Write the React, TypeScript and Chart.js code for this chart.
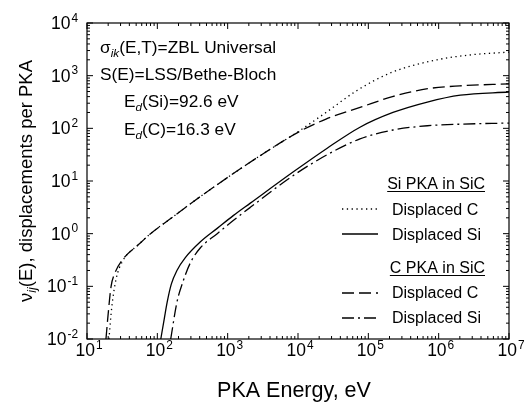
import React, { useEffect, useRef } from "react";
import { Chart, registerables } from "chart.js";

Chart.register(...registerables);

// ---- Data ----
// Si PKA in SiC, displaced C (dotted)
const siPkaDispC_E = [20.5, 22.5, 26, 32, 54, 80, 160, 320, 1000, 3200, 10000, 25000, 70000, 220000, 950000, 3000000, 10000000];
const siPkaDispC_nu = [0.01, 0.04, 0.14, 0.3, 0.62, 1.0, 2.0, 4.0, 11.7, 33, 86, 200, 530, 1170, 2000, 2500, 2800];
// Si PKA in SiC, displaced Si (solid)
const siPkaDispSi_E = [112, 126, 138, 158, 190, 250, 410, 710, 1200, 2100, 8500, 26000, 76000, 224000, 690000, 2040000, 10000000];
const siPkaDispSi_nu = [0.01, 0.025, 0.05, 0.11, 0.2, 0.35, 0.7, 1.26, 2.2, 3.8, 14.8, 42, 105, 200, 316, 427, 490];
// C PKA in SiC, displaced C (dashed)
const cPkaDispC_E = [18.6, 20, 22, 25, 32, 54, 80, 160, 320, 1000, 3200, 10000, 25000, 80000, 220000, 700000, 2000000, 10000000];
const cPkaDispC_nu = [0.01, 0.03, 0.1, 0.18, 0.32, 0.62, 1.0, 2.0, 4.0, 11.7, 33, 84, 150, 255, 400, 565, 640, 700];
// C PKA in SiC, displaced Si (dash-dot)
const cPkaDispSi_E = [155, 190, 235, 295, 410, 710, 1200, 2100, 8500, 26000, 76000, 224000, 690000, 2040000, 10000000];
const cPkaDispSi_nu = [0.01, 0.05, 0.13, 0.28, 0.54, 1.0, 1.78, 3.16, 12.6, 31.6, 63, 93, 112, 120, 126];

// Tick exponents
const xTickExps = [1, 2, 3, 4, 5, 6, 7];
const yTickExps = [-2, -1, 0, 1, 2, 3, 4];

// Text
const xTitle = "PKA Energy, eV";
const yTitleMain = "ν";
const yTitleSub = "ij";
const yTitleRest = "(E), displacements per PKA";
const legendHeader1 = "Si PKA in SiC";
const legendHeader2 = "C PKA in SiC";
const legendLabelC = "Displaced C";
const legendLabelSi = "Displaced Si";

const FONT = '"Liberation Sans", Arial, Helvetica, sans-serif';

const DOT = [1.3, 3.5];
const DASH = [12, 5];
const DASHDOT = [12, 4, 2, 4];
const SOLID: number[] = [];

const toPts = (xs: number[], ys: number[]) => xs.map((x, i) => ({ x, y: ys[i] }));

type Part = { t: string; sub?: boolean; italic?: boolean };

function drawRich(ctx: CanvasRenderingContext2D, parts: Part[], x: number, y: number, size: number) {
  let cx = x;
  for (const p of parts) {
    const s = p.sub ? size * 0.68 : size;
    ctx.font = `${p.italic ? "italic " : ""}${s}px ${FONT}`;
    const dy = p.sub ? size * 0.22 : 0;
    ctx.fillText(p.t, cx, y + dy);
    cx += ctx.measureText(p.t).width;
  }
  return cx - x;
}

function drawPow(ctx: CanvasRenderingContext2D, exp: number, x: number, baseY: number, align: "center" | "right", size: number) {
  const supSize = size * 0.68;
  ctx.font = `${size}px ${FONT}`;
  const wb = ctx.measureText("10").width;
  ctx.font = `${supSize}px ${FONT}`;
  const es = String(exp);
  const we = ctx.measureText(es).width;
  const total = wb + 1 + we;
  const x0 = align === "center" ? x - total / 2 + 2 : x - total;
  ctx.textAlign = "left";
  ctx.textBaseline = "alphabetic";
  ctx.font = `${size}px ${FONT}`;
  ctx.fillText("10", x0, baseY);
  ctx.font = `${supSize}px ${FONT}`;
  ctx.fillText(es, x0 + wb + 1, baseY - size * 0.42);
}

const decorPlugin = {
  id: "decor",
  afterDraw(chart: any) {
    const ctx: CanvasRenderingContext2D = chart.ctx;
    const { left, right, top, bottom } = chart.chartArea;
    const xs = chart.scales.x;
    const ys = chart.scales.y;
    ctx.save();
    ctx.strokeStyle = "#000";
    ctx.fillStyle = "#000";
    ctx.lineWidth = 1.2;
    ctx.setLineDash([]);
    ctx.strokeRect(left, top, right - left, bottom - top);

    const seg = (x1: number, y1: number, x2: number, y2: number) => {
      ctx.beginPath();
      ctx.moveTo(x1, y1);
      ctx.lineTo(x2, y2);
      ctx.stroke();
    };

    ctx.lineWidth = 1;
    // x ticks (inward, bottom and top)
    for (let i = 0; i < xTickExps.length; i++) {
      const e = xTickExps[i];
      for (let m = 1; m <= 9; m++) {
        if (i === xTickExps.length - 1 && m > 1) break;
        const px = xs.getPixelForValue(m * Math.pow(10, e));
        const len = m === 1 ? 6 : 3;
        seg(px, bottom, px, bottom - len);
        seg(px, top, px, top + len);
      }
    }
    // y ticks (inward, left and right)
    for (let i = 0; i < yTickExps.length; i++) {
      const e = yTickExps[i];
      for (let m = 1; m <= 9; m++) {
        if (i === yTickExps.length - 1 && m > 1) break;
        const py = ys.getPixelForValue(m * Math.pow(10, e));
        const len = m === 1 ? 6 : 3;
        seg(left, py, left + len, py);
        seg(right, py, right - len, py);
      }
    }

    // tick labels
    for (const e of xTickExps) {
      drawPow(ctx, e, xs.getPixelForValue(Math.pow(10, e)), 356, "center", 17.5);
    }
    for (const e of yTickExps) {
      drawPow(ctx, e, left - 9, ys.getPixelForValue(Math.pow(10, e)) + 6, "right", 17.5);
    }

    // axis titles
    ctx.textAlign = "left";
    ctx.textBaseline = "alphabetic";
    ctx.font = `21.5px ${FONT}`;
    const xtw = ctx.measureText(xTitle).width;
    ctx.fillText(xTitle, 294 - xtw / 2, 397);

    // y title (rotated)
    const ySize = 18.5;
    ctx.font = `${ySize}px ${FONT}`;
    const w1 = ctx.measureText(yTitleMain).width;
    ctx.font = `italic ${ySize * 0.68}px ${FONT}`;
    const w2 = ctx.measureText(yTitleSub).width;
    ctx.font = `${ySize}px ${FONT}`;
    const w3 = ctx.measureText(yTitleRest).width;
    const ytw = w1 + w2 + w3;
    ctx.save();
    ctx.translate(32, 181);
    ctx.rotate(-Math.PI / 2);
    drawRich(ctx, [{ t: yTitleMain }, { t: yTitleSub, sub: true, italic: true }, { t: yTitleRest }], -ytw / 2, 0, ySize);
    ctx.restore();

    // annotations
    ctx.textAlign = "left";
    drawRich(ctx, [{ t: "σ" }, { t: "ik", sub: true, italic: true }, { t: "(E,T)=ZBL Universal" }], 100, 53, 17.3);
    drawRich(ctx, [{ t: "S(E)=LSS/Bethe-Bloch" }], 100, 80, 17.3);
    drawRich(ctx, [{ t: "E" }, { t: "d", sub: true, italic: true }, { t: "(Si)=92.6 eV" }], 124, 107, 17.3);
    drawRich(ctx, [{ t: "E" }, { t: "d", sub: true, italic: true }, { t: "(C)=16.3 eV" }], 124, 135, 17.3);

    // legend
    const lx1 = 342, lx2 = 378, tx = 392;
    const header = (txt: string, yb: number) => {
      ctx.font = `16px ${FONT}`;
      const w = ctx.measureText(txt).width;
      const xr = 485;
      ctx.fillText(txt, xr - w, yb);
      ctx.lineWidth = 1;
      ctx.setLineDash([]);
      seg(xr - w, yb + 2.5, xr, yb + 2.5);
    };
    const entry = (txt: string, yb: number, ly: number, dash: number[]) => {
      ctx.lineWidth = 1.3;
      ctx.setLineDash(dash);
      seg(lx1, ly, lx2, ly);
      ctx.setLineDash([]);
      ctx.font = `16px ${FONT}`;
      ctx.fillText(txt, tx, yb);
    };
    header(legendHeader1, 189);
    entry(legendLabelC, 215, 209, DOT);
    entry(legendLabelSi, 240, 234, SOLID);
    header(legendHeader2, 273);
    entry(legendLabelC, 298, 293, DASH);
    entry(legendLabelSi, 323, 318, DASHDOT);

    ctx.restore();
  },
};

export default function App() {
  const ref = useRef<HTMLCanvasElement | null>(null);
  useEffect(() => {
    if (!ref.current) return;
    const mk = (xs: number[], ys: number[], dash: number[]) => ({
      data: toPts(xs, ys),
      borderColor: "#000",
      backgroundColor: "#000",
      borderWidth: 1.3,
      borderDash: dash,
      pointRadius: 0,
      fill: false,
      cubicInterpolationMode: "monotone" as const,
    });
    const chart = new Chart(ref.current, {
      type: "line",
      data: {
        datasets: [
          mk(siPkaDispC_E, siPkaDispC_nu, DOT),
          mk(siPkaDispSi_E, siPkaDispSi_nu, SOLID),
          mk(cPkaDispC_E, cPkaDispC_nu, DASH),
          mk(cPkaDispSi_E, cPkaDispSi_nu, DASHDOT),
        ],
      },
      options: {
        responsive: false,
        animation: false,
        layout: { padding: { left: 87, top: 23, right: 16, bottom: 68 } },
        scales: {
          x: { type: "logarithmic", min: 10, max: 1e7, display: false },
          y: { type: "logarithmic", min: 0.01, max: 1e4, display: false },
        },
        plugins: { legend: { display: false }, tooltip: { enabled: false } },
      },
      plugins: [decorPlugin],
    });
    return () => chart.destroy();
  }, []);
  return (
    <div style={{ position: "fixed", left: 0, top: 0, width: 525, height: 407, background: "#fff" }}>
      <canvas ref={ref} width={525} height={407} />
    </div>
  );
}
